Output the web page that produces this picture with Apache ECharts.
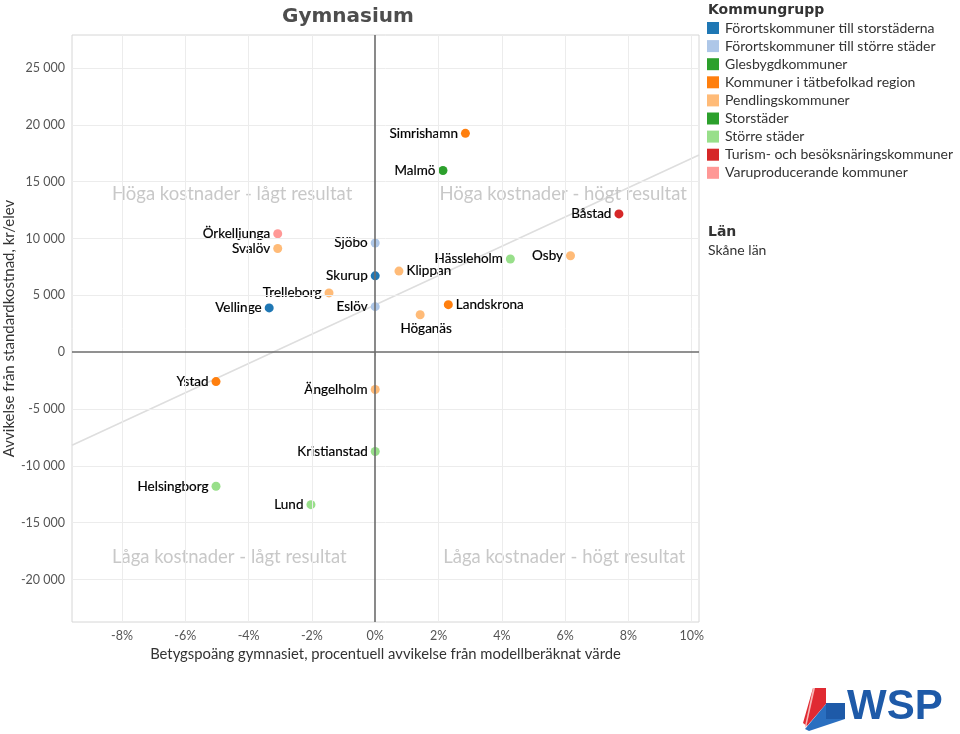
<!DOCTYPE html>
<html>
<head>
<meta charset="utf-8">
<script src="https://cdn.jsdelivr.net/npm/echarts@6/dist/echarts.min.js"></script>
<style>
html,body{margin:0;padding:0;background:#fff;}
#chart{width:960px;height:734px;}
</style>
</head>
<body>
<div id="chart"></div>
<script>
// ---- data ----
const groups = [
  'Förortskommuner till storstäderna',
  'Förortskommuner till större städer',
  'Glesbygdkommuner',
  'Kommuner i tätbefolkad region',
  'Pendlingskommuner',
  'Storstäder',
  'Större städer',
  'Turism- och besöksnäringskommuner',
  'Varuproducerande kommuner'
];
const groupColors = ['#1f77b4','#aec7e8','#2ca02c','#ff7f0e','#ffbb78','#2ca02c','#98df8a','#d62728','#ff9896'];

const municipalities = ['Simrishamn','Malmö','Örkelljunga','Svalöv','Sjöbo','Skurup','Klippan','Trelleborg','Vellinge','Eslöv','Landskrona','Höganäs','Hässleholm','Osby','Båstad','Ystad','Ängelholm','Kristianstad','Helsingborg','Lund'];
const betygAvvikelse = [2.85, 2.14, -3.08, -3.08, 0.0, 0.0, 0.75, -1.46, -3.35, 0.0, 2.31, 1.42, 4.27, 6.17, 7.70, -5.03, 0.0, 0.0, -5.03, -2.03];
const kostnadAvvikelse = [19250, 15980, 10420, 9120, 9600, 6710, 7130, 5210, 3890, 4000, 4180, 3290, 8190, 8480, 12160, -2590, -3290, -8740, -11800, -13420];
const gruppIndex = [3, 5, 8, 4, 1, 0, 4, 4, 0, 1, 3, 4, 6, 4, 7, 3, 4, 6, 6, 6];
const labelPlacement = ['left','left','left','left','left','left','right','left','left','left','right','bottom','left','left','left','left','left','left','left','left'];

const xTicks = [-8, -6, -4, -2, 0, 2, 4, 6, 8, 10];
const yTicks = [-20000, -15000, -10000, -5000, 0, 5000, 10000, 15000, 20000, 25000];

const trendX = [-9.58, 10.23];
const trendY = [-8190, 17340];

const quadrantTexts = ['Höga kostnader - lågt resultat','Höga kostnader - högt resultat','Låga kostnader - lågt resultat','Låga kostnader - högt resultat'];
const quadrantX = [-4.52, 5.94, -4.61, 5.97];
const quadrantY = [13900, 13900, -18050, -18050];

// ---- helpers ----
const FONT = 'Lato, "Open Sans", sans-serif';
function fmtThousands(v){
  const s = String(Math.abs(v)).replace(/\B(?=(\d{3})+(?!\d))/g, ' ');
  return (v < 0 ? '-' : '') + s;
}

const chart = echarts.init(document.getElementById('chart'), null, {renderer:'canvas'});

const series = [];

series.push({
  type: 'line',
  data: trendX.map((x,i)=>[x, trendY[i]]),
  symbol: 'none',
  silent: true,
  z: 1,
  lineStyle: {color: '#dedede', width: 1.5},
  markLine: {
    silent: true,
    symbol: 'none',
    label: {show: false},
    lineStyle: {color: '#ececec', width: 1, type: 'solid'},
    data: xTicks.filter(v=>v!==0).map(v=>({xAxis: v})).concat(yTicks.filter(v=>v!==0).map(v=>({yAxis: v})))
  }
});
series.push({
  type: 'line',
  data: [],
  silent: true,
  z: 1,
  markLine: {
    silent: true,
    symbol: 'none',
    label: {show: false},
    lineStyle: {color: '#6c6c6c', width: 1.6, type: 'solid'},
    data: [{xAxis: 0}, {yAxis: 0}]
  }
});

series.push({
  type: 'scatter',
  silent: true,
  symbolSize: 0,
  z: 1,
  data: quadrantTexts.map((t,i)=>({name: t, value: [quadrantX[i], quadrantY[i]]})),
  label: {
    show: true,
    position: 'inside',
    formatter: '{b}',
    color: '#bababa',
    fontSize: 18.5,
    fontFamily: FONT
  }
});

groups.forEach((g, gi) => {
  const data = [];
  municipalities.forEach((m, i) => {
    if (gruppIndex[i] === gi) {
      const pos = labelPlacement[i];
      const item = {name: m, value: [betygAvvikelse[i], kostnadAvvikelse[i]], label: {position: pos}};
      if (pos === 'bottom') item.label.offset = [6, -1];
      data.push(item);
    }
  });
  series.push({
    name: g,
    type: 'scatter',
    symbol: 'circle',
    symbolSize: 9,
    z: 3,
    itemStyle: {color: groupColors[gi], opacity: 1},
    emphasis: {disabled: true},
    data: data,
    label: {
      show: true,
      formatter: '{b}',
      distance: 3,
      color: '#000',
      fontSize: 13.5,
      fontFamily: FONT,
      textBorderColor: '#000',
      textBorderWidth: 0.2
    }
  });
});

const option = {
  animation: false,
  backgroundColor: '#fff',
  textStyle: {fontFamily: FONT},
  grid: {left: 72, top: 35, right: 261, bottom: 112, show: true, borderColor: '#d6d6d6', borderWidth: 1, containLabel: false, outerBoundsMode: 'none'},
  xAxis: {
    type: 'value',
    min: -9.58,
    max: 10.23,
    name: 'Betygspoäng gymnasiet, procentuell avvikelse från modellberäknat värde',
    nameLocation: 'middle',
    nameGap: 25,
    nameTextStyle: {color: '#333', fontSize: 14.8, fontFamily: FONT},
    axisLine: {show: false},
    splitLine: {show: false},
    axisTick: {show: true, customValues: xTicks, length: 4, lineStyle: {color: '#d0d0d0'}},
    axisLabel: {customValues: xTicks, formatter: v => Math.round(v) + '%', color: '#555', fontSize: 12.5, margin: 7, fontFamily: FONT}
  },
  yAxis: {
    type: 'value',
    min: -23740,
    max: 27900,
    name: 'Avvikelse från standardkostnad, kr/elev',
    nameLocation: 'middle',
    nameGap: 55,
    nameMoveOverlap: false,
    nameRotate: 90,
    nameTextStyle: {color: '#333', fontSize: 15, fontFamily: FONT},
    axisLine: {show: false},
    splitLine: {show: false},
    axisTick: {show: true, customValues: yTicks, length: 5, lineStyle: {color: '#d0d0d0'}},
    axisLabel: {customValues: yTicks, formatter: v => fmtThousands(Math.round(v)), color: '#555', fontSize: 12.5, margin: 7, fontFamily: FONT}
  },
  legend: {
    data: groups,
    orient: 'vertical',
    left: 707,
    top: 21,
    padding: 0,
    icon: 'rect',
    itemWidth: 12,
    itemHeight: 12,
    itemGap: 4.1,
    selectedMode: false,
    textStyle: {color: '#333', fontSize: 14, fontFamily: FONT, lineHeight: 12, padding: [0,0,0,1]}
  },
  graphic: [
    {type: 'text', left: 282, top: 7, style: {text: 'Gymnasium', fill: '#4d4d4d', font: 'bold 20px "DejaVu Sans", sans-serif'}},
    {type: 'text', left: 708, top: 3, style: {text: 'Kommungrupp', fill: '#333', font: 'bold 14px "DejaVu Sans", sans-serif'}},
    {type: 'text', left: 708, top: 225, style: {text: 'Län', fill: '#333', font: 'bold 14px "DejaVu Sans", sans-serif'}},
    {type: 'text', left: 708, top: 243, style: {text: 'Skåne län', fill: '#333', font: '14px ' + FONT}},
    {type: 'polygon', shape: {points: [[813,688],[826,688],[826,704],[807,726],[803,723]]}, style: {fill: '#e02a32'}},
    {type: 'polygon', shape: {points: [[826,703],[845,703],[845,719],[826,719]]}, style: {fill: '#1e5aa8'}},
    {type: 'polygon', shape: {points: [[826,704],[826,719],[845,719],[809,731],[805,729]]}, style: {fill: '#2a6fc0'}},
    {type: 'polygon', shape: {points: [[813,688],[815,688],[806,728],[805,726]]}, style: {fill: '#f7b6b6'}},
    {type: 'text', left: 847, top: 686, style: {text: 'WSP', fill: '#1e5aa8', font: 'bold 42px "Liberation Sans", Arial, sans-serif'}}
  ],
  series: series
};

chart.setOption(option);
</script>
</body>
</html>
